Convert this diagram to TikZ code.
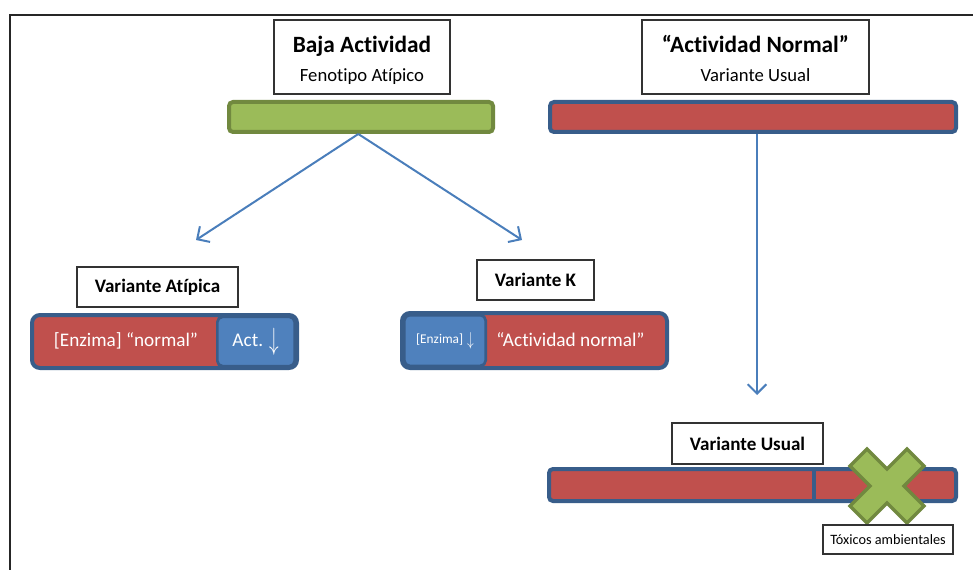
\documentclass[tikz,border=0pt]{standalone}
\usepackage{fontspec}
\setmainfont{Carlito}[Ligatures={NoCommon}]
\usetikzlibrary{arrows.meta}
\definecolor{rojo}{HTML}{C0504D}
\definecolor{azul}{HTML}{4F81BD}
\definecolor{azuloscuro}{HTML}{385D8A}
\definecolor{verde}{HTML}{9BBB59}
\definecolor{verdeoscuro}{HTML}{71893F}
\definecolor{flechaazul}{HTML}{4A7EBB}
\newcommand{\bajaflecha}[1]{\raisebox{-0.15em}{\scalebox{1}[#1]{$\downarrow$}}}

\begin{document}
\begin{tikzpicture}[x=0.75pt,y=-0.75pt,
  etiqueta/.style={draw=black!80,line width=0.8pt,fill=white,inner sep=0pt,align=center},
  titulo/.style={anchor=base,inner sep=0pt,font=\bfseries\fontsize{17.5}{21}\selectfont},
  subtitulo/.style={anchor=base,inner sep=0pt,font=\fontsize{14}{17}\selectfont},
  barra/.style={rounded corners=3pt,line width=3pt,inner sep=0pt},
  parte/.style={rounded corners=4pt,line width=2pt,inner sep=0pt,text=white},
  flecha/.style={draw=flechaazul,line width=1.5pt,-{Straight Barb[length=7pt,width=14pt]}}]
  \useasboundingbox (0,0) rectangle (973,570);
  \draw[line width=1.1pt,black!85] (973,15) -- (10,15) -- (10,570);

  \node[etiqueta,minimum width=132pt,minimum height=55.5pt] (baja) at (362,57) {};
  \node[titulo] (bajatitulo) at (362,53) {Baja Actividad};
  \node[subtitulo] (bajasub) at (362,82) {Fenotipo Atípico};
  \node[etiqueta,minimum width=170.25pt,minimum height=55.5pt] (normal) at (755.5,57) {};
  \node[titulo] (normaltitulo) at (755.5,53) {“Actividad Normal”};
  \node[subtitulo] (normalsub) at (755.5,82) {Variante Usual};

  \node[barra,fill=verde,draw=verdeoscuro,minimum width=198pt,minimum height=22.5pt] (barraverde) at (361,117) {};
  \node[barra,fill=rojo,draw=azuloscuro,minimum width=304.5pt,minimum height=22.5pt] (barraroja) at (753,117) {};

  \coordinate (finatipica) at (196,240);
  \coordinate (fink) at (522,240);
  \coordinate (finusual) at (757,395);
  \draw[flecha] ([xshift=-2pt]barraverde.south) -- (finatipica);
  \draw[flecha] ([xshift=-2pt]barraverde.south) -- (fink);
  \draw[flecha] ([xshift=3pt]barraroja.south) -- (finusual);

  \node[etiqueta,minimum width=120.75pt,minimum height=30pt,font=\bfseries\fontsize{14.3}{17}\selectfont] (atipica) at (157.5,287) {Variante Atípica};
  \node[barra,rounded corners=6pt,fill=rojo,draw=azuloscuro,minimum width=198.75pt,minimum height=39.75pt] (barraatipica) at (164.5,341.5) {};
  \node[parte,fill=azul,draw=azuloscuro,minimum width=58pt,minimum height=37pt,font=\fontsize{14.5}{17}\selectfont] (actatipica) at (256,341.5) {Act.\hspace{0.35em}\bajaflecha{1.6}};
  \node[text=white,font=\fontsize{14.4}{17}\selectfont] (enzatipica) at (126,341) {[Enzima] “normal”};

  \node[etiqueta,minimum width=87.75pt,minimum height=30pt,font=\bfseries\fontsize{14.3}{17}\selectfont] (vark) at (535.5,280) {Variante K};
  \node[barra,rounded corners=6pt,fill=rojo,draw=azuloscuro,minimum width=198.75pt,minimum height=41.25pt] (barrak) at (534.5,340.5) {};
  \node[parte,fill=azul,draw=azuloscuro,minimum width=61pt,minimum height=38pt,font=\fontsize{10}{12}\selectfont] (enzk) at (445,340.5) {[Enzima]\hspace{0.3em}\bajaflecha{1.4}};
  \node[text=white,font=\fontsize{14.5}{17}\selectfont] (actk) at (570.5,340) {“Actividad normal”};

  \node[etiqueta,minimum width=113.25pt,minimum height=30.75pt,font=\bfseries\fontsize{14.3}{17}\selectfont] (usual) at (747.5,443.5) {Variante Usual};
  \node[barra,fill=rojo,draw=azuloscuro,minimum width=305.25pt,minimum height=24pt] (barrausual) at (752.5,485) {};
  \draw[azuloscuro,line width=2.5pt] (814,469) -- (814,501);

  \draw[fill=verde,draw=verdeoscuro,line width=2.5pt,shift={(887,486)}]
    (-37,-20) -- (-20,-37) -- (0,-17) -- (20,-37) -- (37,-20) -- (17,0) -- (37,20)
    -- (20,37) -- (0,17) -- (-20,37) -- (-37,20) -- (-17,0) -- cycle;

  \node[etiqueta,minimum width=97.5pt,minimum height=21.75pt,font=\fontsize{10.7}{13}\selectfont] (toxicos) at (888,539.5) {Tóxicos ambientales};
\end{tikzpicture}
\end{document}
